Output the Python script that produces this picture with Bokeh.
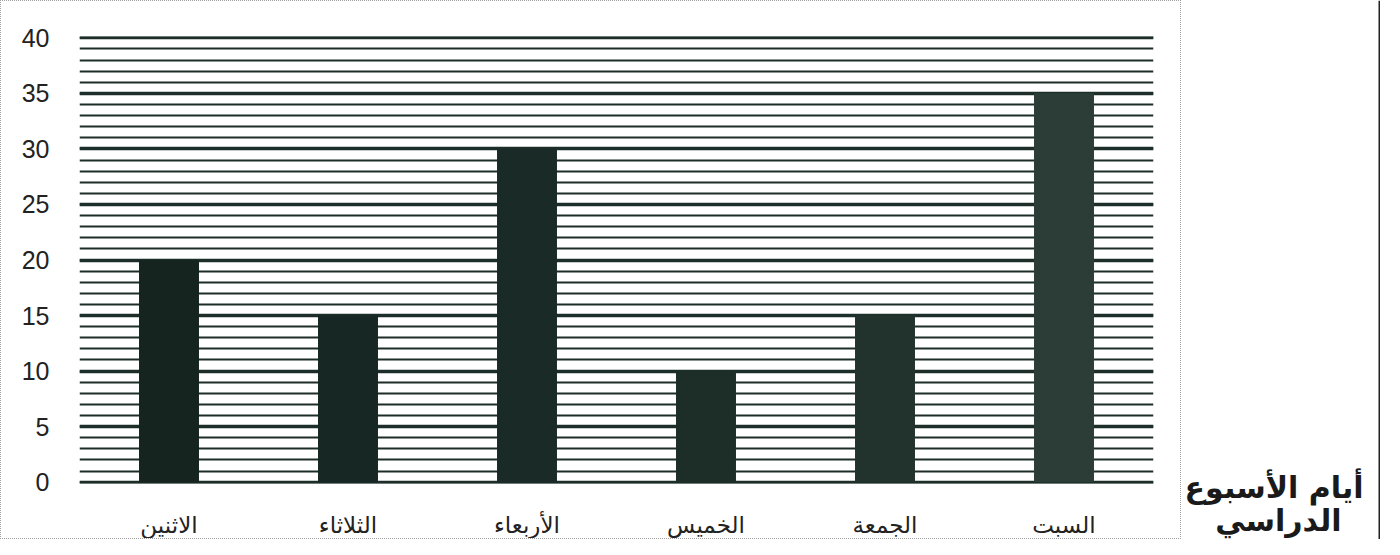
from bokeh.plotting import figure
from bokeh.models import SingleIntervalTicker, Range1d, ColumnDataSource, Label, Span
from bokeh.layouts import row, column
from bokeh.embed import file_html
from bokeh.resources import INLINE

days = ["الاثنين", "الثلاثاء", "الأربعاء", "الخميس", "الجمعة", "السبت"]
counts = [20, 15, 30, 10, 15, 35]
bar_colors = ["#15241f", "#172723", "#1a2a26", "#1d2e29", "#22332e", "#2c3c37"]
side_title = ["أيام الأسبوع", "الدراسي"]

src = ColumnDataSource(dict(day=days, count=counts, color=bar_colors))

p = figure(x_range=days, y_range=Range1d(-0.12, 40.12), width=1181, height=539,
           output_backend="svg", toolbar_location=None,
           min_border_left=78, min_border_right=29, min_border_top=35, min_border_bottom=55)
p.vbar(x="day", top="count", width=0.335, source=src, fill_color="color", line_color=None)

p.outline_line_color = None
p.background_fill_color = "white"
p.border_fill_color = "white"
p.styles = {"border": "1px dotted #a0a0a0", "box-sizing": "border-box"}

p.yaxis.ticker = SingleIntervalTicker(interval=5, num_minor_ticks=5)
p.ygrid.ticker = p.yaxis.ticker
p.ygrid.grid_line_color = "#1d2d29"
p.ygrid.grid_line_width = 3.5
p.ygrid.minor_grid_line_color = "#1d2d29"
p.ygrid.minor_grid_line_width = 2
p.xgrid.grid_line_color = None

for ax in (p.xaxis, p.yaxis):
    ax.axis_line_color = None
    ax.major_tick_line_color = None
    ax.minor_tick_line_color = None

p.yaxis.major_label_text_font = "Liberation Sans"
p.yaxis.major_label_text_font_size = "25px"
p.yaxis.major_label_text_color = "#222222"
p.yaxis.major_label_standoff = 24

p.xaxis.major_label_text_font = "DejaVu Sans"
p.xaxis.major_label_text_font_size = "23px"
p.xaxis.major_label_text_color = "#222222"
p.xaxis.major_label_standoff = 22

q = figure(x_range=Range1d(0, 199), y_range=Range1d(0, 539), width=199, height=539,
           output_backend="svg", toolbar_location=None,
           min_border_left=0, min_border_right=0, min_border_top=0, min_border_bottom=0)
q.axis.visible = False
q.grid.visible = False
q.outline_line_color = None
q.background_fill_color = "white"
q.border_fill_color = "white"
q.add_layout(Span(location=198, dimension="height", line_color="#222222", line_width=2))
q.add_layout(Label(x=182, y=52, text=side_title[0], text_align="right", text_baseline="middle",
                   text_font="DejaVu Sans", text_font_style="bold",
                   text_font_size="30px", text_color="#1a1a1a"))
q.add_layout(Label(x=160, y=19, text=side_title[1], text_align="right", text_baseline="middle",
                   text_font="DejaVu Sans", text_font_style="bold",
                   text_font_size="30px", text_color="#1a1a1a"))

layout = row(p, column(q), spacing=0)
open("out.html", "w").write(file_html(layout, INLINE))
